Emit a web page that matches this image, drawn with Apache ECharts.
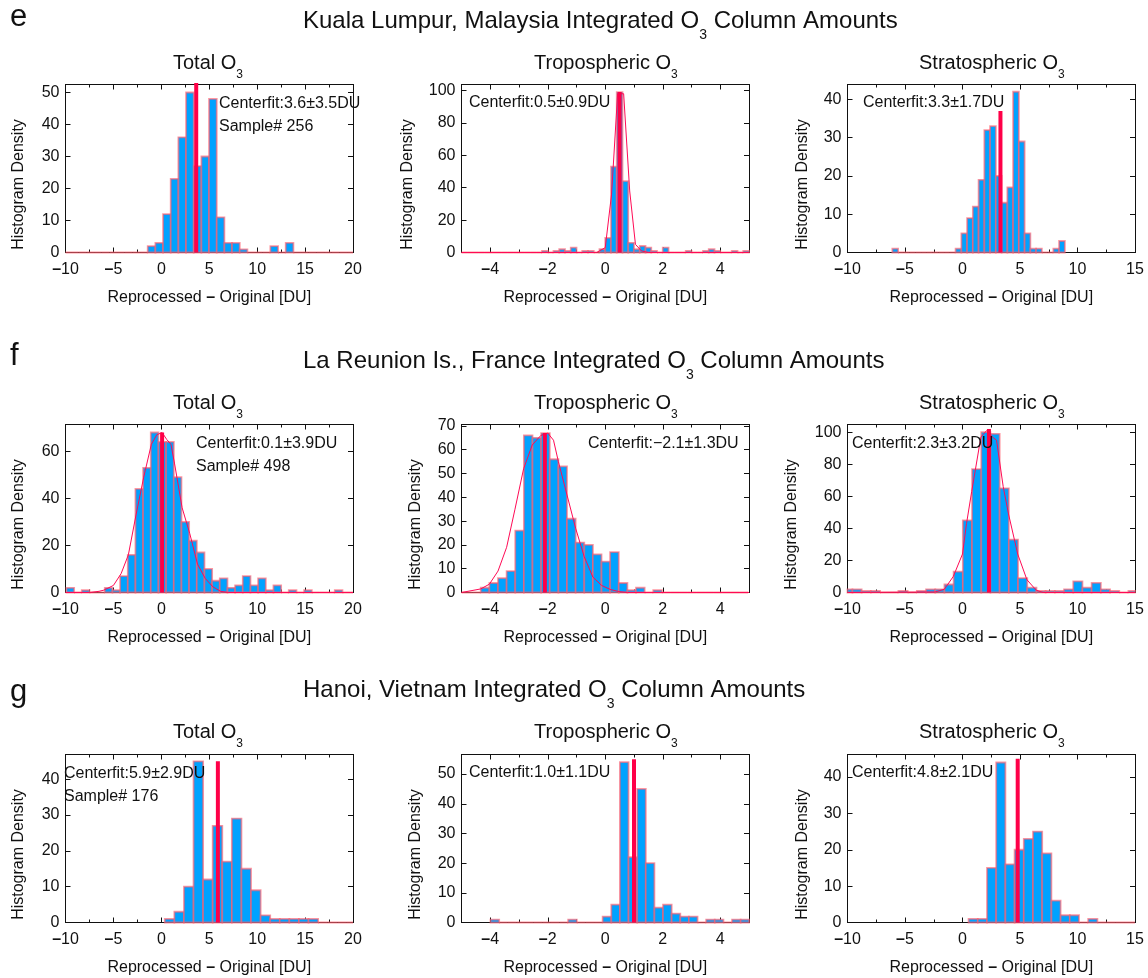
<!DOCTYPE html>
<html>
<head>
<meta charset="utf-8">
<style>html,body{margin:0;padding:0;background:#fff}#chart{width:1148px;height:978px}</style>
<script src="https://cdn.jsdelivr.net/npm/echarts@6/dist/echarts.min.js"></script>
</head>
<body>
<div id="chart"></div>
<script>
// histogram counts (left edge of first bin + bin width below)
const eTotalCounts = [0,0,0,0,0,0,0,0,0,0,0,2,3,12,23,36,50,27,30,48,11,3,3,1,0,0,0,2,0,3,0,0,0,0,0,0,0,0];
const eTropCounts = [0,0,0,0,0,0,0,0,0,0,0,0,0,0,1,0,1,2,1,3,0,1,1,0,2,9,53,99,44,6,2,4,3,1,0,3,0,0,0,1,0,0,1,2,1,0,0,1,0,1];
const eStratCounts = [1,0,0,0,0,0,0,0,0,0,0,1,5,9,12,19,32,33,20,13,17,42,29,5,1,1,0,0,1,3];
const fTotalCounts = [2,0,1,0,0,2,1,7,16,44,53,68,64,64,49,30,22,17,10,5,6,2,3,7,3,6,1,3,0,1,0,1,0,0,0,1,0,0];
const fTropCounts = [0,0,0,2,4,6,9,26,66,65,67,56,53,31,21,20,16,13,17,4,1,2,0,1,0,0,0,0,0,0,0,0,0,0];
const fStratCounts = [2,2,1,1,0,0,1,0,1,2,2,5,13,45,77,100,99,65,33,9,3,1,1,1,2,7,3,6,2,1,0,1];
const gTotalCounts = [1,3,10,45,12,27,17,29,15,9,2,1,1,1,1,1,0,0,0,0];
const gTropCounts = [1,0,0,0,0,0,0,0,0,1,0,0,0,2,6,54,22,45,20,5,6,3,2,2,0,1,1,0,1,1];
const gStratCounts = [1,1,15,44,16,20,23,25,19,6,2,2,0,1,0,0,0,0,0];

// [first bin left edge, bin width]
const eTotalBins = [-10.22, 0.8], eTropBins = [-5, 0.2], eStratBins = [-6.1, 0.5];
const fTotalBins = [-9.9, 0.8], fTropBins = [-5.23, 0.3], fStratBins = [-10.37, 0.8];
const gTotalBins = [0.36, 1], gTropBins = [-3.99, 0.3], gStratBins = [0.53, 0.8];

// gaussian fit curves as drawn, [x, y]
const eTropFit = [[-5,0],[-0.3,0],[0,3],[0.22,36],[0.43,98],[0.64,98],[0.85,38],[1.05,5],[1.26,1],[1.5,0],[5,0]];
const fTotalFit = [[-10,0],[-7.5,0],[-6.5,0.5],[-6,1],[-5,3],[-4.2,8],[-3.44,16],[-2.64,33],[-1.84,49],[-1.04,63],[-0.48,67],[0.08,68],[0.57,65],[1,63],[1.37,55],[2.17,36],[2.97,25],[3.78,12],[4.58,6],[5.38,2.4],[6.18,0.5],[7,0],[20,0]];
const fTropFit = [[-5,0],[-4.33,1.5],[-4.03,3.5],[-3.73,9],[-3.43,19],[-3.14,35],[-2.84,52],[-2.54,62],[-2.24,66],[-2,67],[-1.8,64],[-1.63,55],[-1.33,41],[-1.03,27],[-0.73,15],[-0.43,6.5],[-0.13,3],[0.17,1.3],[0.47,0.4],[0.78,0],[5,0]];
const fStratFit = [[-10,0],[-2.4,0.3],[-1.58,2],[-0.8,10],[0,24],[0.35,43],[0.8,63],[1.6,97],[2.1,101],[2.6,97],[2.96,95],[3.54,66],[4,49],[4.8,24],[5.6,8],[6.4,1.5],[7,0],[15,0]];

// centre line [x, height]
const centerLines = [[3.64,53],[0.5,99],[3.3,37],[0.08,68],[-2.1,67],[2.3,102],[5.9,45],[1,55],[4.8,45]];
const yMaxes = [52.5,103.7,43.9,71.4,70.6,104.8,46.9,56.6,46.2];
const yTickLists = [[0,10,20,30,40,50],[0,20,40,60,80,100],[0,10,20,30,40],[0,20,40,60],[0,10,20,30,40,50,60,70],[0,20,40,60,80,100],[0,10,20,30,40],[0,10,20,30,40,50],[0,10,20,30,40]];
const yNameGaps = [39,46,37,39,38,48,39,38,37];

const xWide = {min:-10,max:20,major:[-10,-5,0,5,10,15,20],minor:[-7.5,-2.5,2.5,7.5,12.5,17.5]};
const xTrop = {min:-5,max:5,major:[-4,-2,0,2,4],minor:[-3,-1,1,3]};
const xStrat = {min:-10,max:15,major:[-10,-5,0,5,10,15],minor:[-7.5,-2.5,2.5,7.5,12.5]};

const stationTitles = ['Kuala Lumpur, Malaysia Integrated O','La Reunion Is., France Integrated O','Hanoi, Vietnam Integrated O'];
const stationLetters = ['e','f','g'];
const columnTitles = ['Total O','Tropospheric O','Stratospheric O'];
const notes = [
  [[219,104,'Centerfit:3.6±3.5DU'],[219,127,'Sample# 256']],
  [[469,103,'Centerfit:0.5±0.9DU']],
  [[863,103,'Centerfit:3.3±1.7DU']],
  [[196,444,'Centerfit:0.1±3.9DU'],[196,467,'Sample# 498']],
  [[588,444,'Centerfit:−2.1±1.3DU']],
  [[852,444,'Centerfit:2.3±3.2DU']],
  [[64,774,'Centerfit:5.9±2.9DU'],[64,797,'Sample# 176']],
  [[469,773,'Centerfit:1.0±1.1DU']],
  [[852,773,'Centerfit:4.8±2.1DU']]
];

const FONT = '"Liberation Sans", Arial, sans-serif';
const INK = '#111';
const gridLefts = [65.5,461.5,847.5];
const gridTops = [84.5,424.5,754.5];
const titleTops = [0,340,669];
const letterTops = [2,341,677];
const subTitleTops = [45,385,714];
const subTitleLefts = [173,534,919];

const counts = [eTotalCounts,eTropCounts,eStratCounts,fTotalCounts,fTropCounts,fStratCounts,gTotalCounts,gTropCounts,gStratCounts];
const bins = [eTotalBins,eTropBins,eStratBins,fTotalBins,fTropBins,fStratBins,gTotalBins,gTropBins,gStratBins];
const fits = {1:eTropFit,3:fTotalFit,4:fTropFit,5:fStratFit};

function renderBin(params, api) {
    const cs = params.coordSys;
    const p0 = api.coord([api.value(0), api.value(2)]);
    const p1 = api.coord([api.value(1), 0]);
    const x0 = Math.max(p0[0], cs.x), x1 = Math.min(p1[0], cs.x + cs.width);
    if (x1 <= x0) return null;
    return {
        type: 'rect',
        shape: { x: x0, y: p0[1], width: x1 - x0, height: p1[1] - p0[1] },
        style: { fill: api.value(2) > 0 ? '#00a2ff' : 'none', stroke: 'rgba(255,92,108,0.64)', lineWidth: 1.8 }
    };
}

const grids = [], xAxes = [], yAxes = [], series = [], titles = [], graphics = [];
const lineStyle = { color: INK, width: 1 };
const tickLabel = v => String(v).replace('-', '{m|–}');

counts.forEach((list, i) => {
    const col = i % 3, row = Math.floor(i / 3);
    const xs = [xWide, xTrop, xStrat][col];
    grids.push({ left: gridLefts[col], top: gridTops[row], width: 287.5, height: 168 });

    const xBase = { type: 'value', gridIndex: i, min: xs.min, max: xs.max, splitLine: { show: false }, axisLine: { onZero: false, lineStyle } };
    const xFirst = xAxes.length;
    xAxes.push({
        ...xBase, position: 'bottom',
        axisTick: { inside: true, length: 5, lineStyle, customValues: xs.major },
        axisLabel: { customValues: xs.major, formatter: tickLabel, fontFamily: FONT, fontSize: 16, color: INK, margin: 9,
            rich: { m: { fontFamily: FONT, fontSize: 16, fontWeight: 'bold', color: INK } } },
        name: '{n|Reprocessed }{b|–}{n| Original [DU]}', nameLocation: 'middle', nameGap: 37,
        nameTextStyle: { rich: {
            n: { fontFamily: FONT, fontSize: 16, color: INK },
            b: { fontFamily: FONT, fontSize: 16, fontWeight: 'bold', color: INK }
        } }
    });
    xAxes.push({ ...xBase, position: 'top', axisTick: { inside: true, length: 5, lineStyle, customValues: xs.major }, axisLabel: { show: false } });
    xAxes.push({ ...xBase, position: 'bottom', axisTick: { inside: true, length: 3, lineStyle, customValues: xs.minor }, axisLabel: { show: false } });
    xAxes.push({ ...xBase, position: 'top', axisTick: { inside: true, length: 3, lineStyle, customValues: xs.minor }, axisLabel: { show: false } });

    const yBase = { type: 'value', gridIndex: i, min: 0, max: yMaxes[i], splitLine: { show: false }, axisLine: { onZero: false, lineStyle } };
    const yFirst = yAxes.length;
    yAxes.push({
        ...yBase, position: 'left',
        axisTick: { inside: true, length: 5, lineStyle, customValues: yTickLists[i] },
        axisLabel: { customValues: yTickLists[i], fontFamily: FONT, fontSize: 16, color: INK, margin: 6 },
        name: 'Histogram Density', nameLocation: 'middle', nameGap: yNameGaps[i],
        nameTextStyle: { fontFamily: FONT, fontSize: 16, color: INK, padding: [0, 32, 0, 0] }
    });
    yAxes.push({ ...yBase, position: 'right', axisTick: { inside: true, length: 5, lineStyle, customValues: yTickLists[i] }, axisLabel: { show: false } });

    const [start, width] = bins[i];
    series.push({
        type: 'custom', xAxisIndex: xFirst, yAxisIndex: yFirst, renderItem: renderBin, silent: true,
        encode: { x: [0, 1], y: 2 },
        data: list.map((c, k) => [start + k * width, start + (k + 1) * width, c]), z: 3
    });
    if (fits[i]) {
        series.push({ type: 'line', xAxisIndex: xFirst, yAxisIndex: yFirst, data: fits[i], symbol: 'none', silent: true, z: 4,
            lineStyle: { color: '#ff0a55', width: 1 } });
    }
    const [cx, ch] = centerLines[i];
    series.push({ type: 'line', xAxisIndex: xFirst, yAxisIndex: yFirst, data: [[cx, 0], [cx, ch]], symbol: 'none', silent: true, z: 5,
        lineStyle: { color: '#ff0048', width: 4, cap: 'butt' }, clip: true });

    notes[i].forEach(n => graphics.push({
        type: 'text', x: n[0], y: n[1], z: 20,
        style: { text: n[2], font: '16px ' + FONT, fill: INK, verticalAlign: 'middle' }
    }));
});

const rich = (size, subSize, drop) => ({
    t: { fontFamily: FONT, fontSize: size, fontWeight: 'normal', color: INK },
    s: { fontFamily: FONT, fontSize: subSize, fontWeight: 'normal', color: INK, padding: [drop, 0, 0, 0] }
});

stationTitles.forEach((t, r) => {
    titles.push({
        left: 303, top: titleTops[r], padding: 0,
        text: '{t|' + t + '}{s|3}{t| Column Amounts}',
        textStyle: { rich: rich(24, 14, 28) }
    });
    titles.push({
        left: 10, top: letterTops[r], padding: 0, text: stationLetters[r],
        textStyle: { fontFamily: FONT, fontSize: 31, fontWeight: 'normal', color: INK }
    });
    columnTitles.forEach((c, k) => titles.push({
        left: subTitleLefts[k], top: subTitleTops[r], padding: 0,
        text: '{t|' + c + '}{s|3}',
        textStyle: { rich: rich(20, 12, 24) }
    }));
});

const chart = echarts.init(document.getElementById('chart'), null, { renderer: 'canvas' });
chart.setOption({
    backgroundColor: '#fff',
    animation: false,
    title: titles,
    grid: grids,
    xAxis: xAxes,
    yAxis: yAxes,
    series,
    graphic: graphics
});
</script>
</body>
</html>
